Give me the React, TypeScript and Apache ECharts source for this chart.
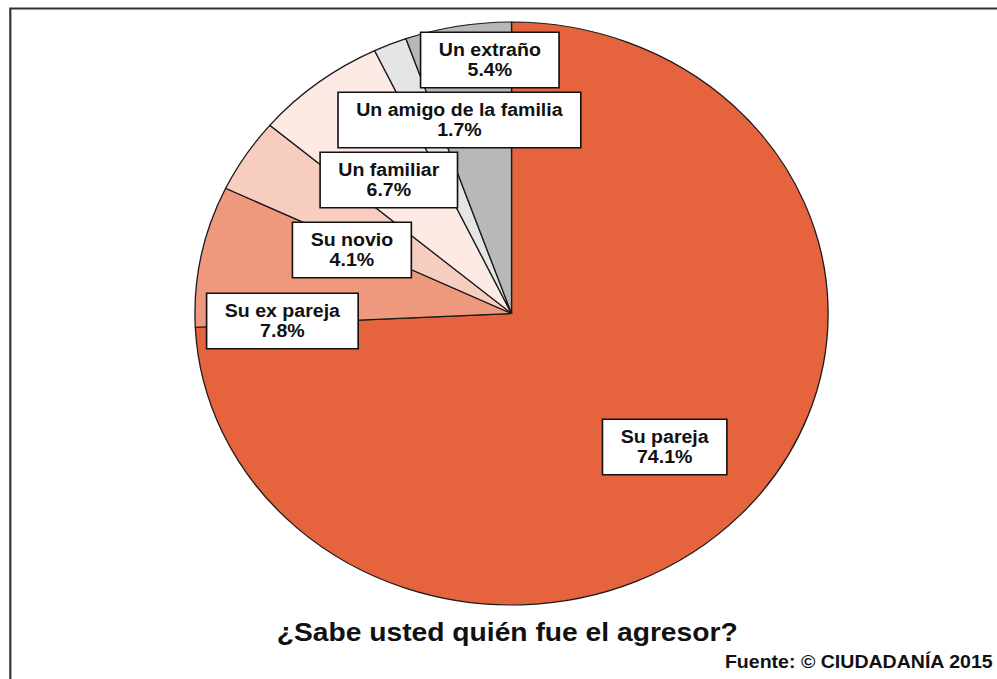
import React, { useEffect, useRef } from "react";
import * as echarts from "echarts";

const categories = [
  "Su pareja",
  "Su ex pareja",
  "Su novio",
  "Un familiar",
  "Un amigo de la familia",
  "Un extraño",
];
const values = [74.1, 7.8, 4.1, 6.7, 1.7, 5.4];
const colors = ["#e6643d", "#ee987d", "#f6cdbf", "#fdeae4", "#e5e5e5", "#b8b8b8"];
// label box centres (chart coordinates, before the horizontal stretch)
const labelPositions: [number, number][] = [
  [612, 447],
  [260, 321],
  [324, 250],
  [358, 180],
  [423, 120],
  [451, 60],
];
const titleText = "¿Sabe usted quién fue el agresor?";
const sourceText = "Fuente: © CIUDADANÍA 2015";

const STRETCH = 997 / 918;

export default function App() {
  const ref = useRef<HTMLDivElement>(null);
  useEffect(() => {
    if (!ref.current) return;
    const chart = echarts.init(ref.current, null, { renderer: "svg" });
    const font = "'Liberation Sans', Arial, Helvetica, sans-serif";
    chart.setOption({
      animation: false,
      backgroundColor: "#ffffff",
      graphic: [
        {
          type: "rect",
          shape: { x: 9.5, y: 8.5, width: 1000, height: 800 },
          style: { fill: "none", stroke: "#333", lineWidth: 2 },
          silent: true,
        },
        {
          type: "text",
          x: 467,
          y: 632,
          style: {
            text: titleText,
            fontFamily: font,
            fontWeight: "bold",
            fontSize: 26,
            fill: "#111",
            textAlign: "center",
            textVerticalAlign: "middle",
          },
        },
        {
          type: "text",
          x: 914,
          y: 662,
          style: {
            text: sourceText,
            fontFamily: font,
            fontWeight: "bold",
            fontSize: 18,
            fill: "#111",
            textAlign: "right",
            textVerticalAlign: "middle",
          },
        },
      ],
      series: [
        {
          type: "pie",
          center: [471, 313.5],
          radius: 291.5,
          startAngle: 90,
          clockwise: true,
          avoidLabelOverlap: false,
          data: categories.map((c, i) => ({
            name: c,
            value: values[i],
            itemStyle: { color: colors[i] },
          })),
          itemStyle: { borderColor: "#1a1a1a", borderWidth: 1.2 },
          emphasis: { disabled: true },
          label: {
            show: true,
            position: "inside",
            formatter: (p: any) => `${p.name}\n${Number(p.value).toFixed(1)}%`,
            fontFamily: font,
            fontWeight: "bold",
            fontSize: 18,
            lineHeight: 20,
            color: "#111",
            backgroundColor: "#ffffff",
            borderColor: "#111",
            borderWidth: 1.5,
            padding: [7, 16],
            align: "center",
          },
          labelLine: { show: false },
          labelLayout: (params: any) => {
            const p = labelPositions[params.dataIndex];
            return { x: p[0], y: p[1], align: "center", verticalAlign: "middle" };
          },
        },
      ],
    });
    return () => chart.dispose();
  }, []);
  return (
    <div
      ref={ref}
      style={{
        position: "fixed",
        left: 0,
        top: 0,
        width: 918,
        height: 679,
        transform: `scaleX(${STRETCH})`,
        transformOrigin: "0 0",
      }}
    />
  );
}
